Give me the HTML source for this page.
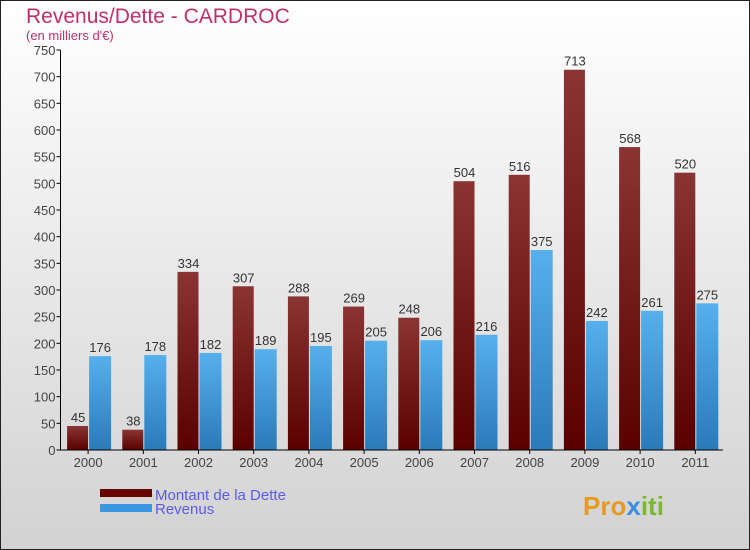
<!DOCTYPE html>
<html><head><meta charset="utf-8"><style>
body{margin:0;width:750px;height:550px;overflow:hidden}
svg{display:block;font-family:"Liberation Sans",sans-serif}
</style></head><body>
<svg id="c" width="750" height="550">
<defs>
<linearGradient id="bg" x1="0" y1="0" x2="0" y2="1"><stop offset="0" stop-color="#ffffff"/><stop offset="1" stop-color="#d2d2d2"/></linearGradient>
<linearGradient id="gd" x1="0" y1="0" x2="0" y2="1"><stop offset="0" stop-color="#8a3434"/><stop offset="1" stop-color="#5a0000"/></linearGradient>
<linearGradient id="gr" x1="0" y1="0" x2="0" y2="1"><stop offset="0" stop-color="#56b0ec"/><stop offset="1" stop-color="#2a7ab8"/></linearGradient>
</defs>
<rect x="0.5" y="0.5" width="749" height="549" fill="url(#bg)" stroke="#222"/>
<text x="26" y="23" font-size="21" fill="#c0306a">Revenus/Dette - CARDROC</text>
<text x="26" y="40" font-size="13" fill="#c0306a">(en milliers d'€)</text>
<g id="g"></g>
<g>
<rect x="100" y="489" width="52" height="8" fill="#660000"/>
<text x="155" y="500" font-size="15" fill="#5a5af0">Montant de la Dette</text>
<rect x="100" y="504" width="52" height="8" fill="#3a98e0"/>
<text x="155" y="514" font-size="15" fill="#5a5af0">Revenus</text>
</g>
<text x="583" y="515" font-size="26" font-weight="bold" fill="#e89a20">Pro<tspan fill="#3a8ee0">x</tspan><tspan fill="#7ab830">iti</tspan></text>
</svg>
<script>
const years=["2000","2001","2002","2003","2004","2005","2006","2007","2008","2009","2010","2011"];
const dette=[45,38,334,307,288,269,248,504,516,713,568,520];
const revenus=[176,178,182,189,195,205,206,216,375,242,261,275];
const yTicks=[0,50,100,150,200,250,300,350,400,450,500,550,600,650,700,750];
const NS="http://www.w3.org/2000/svg",g=document.getElementById('g');
const y0=450,yMax=750,ph=400,x0=60.5,gw=55.2;
const Y=v=>y0-v/yMax*ph, X=i=>x0+gw*(i+0.5);
function el(t,a,txt){const e=document.createElementNS(NS,t);for(const k in a)e.setAttribute(k,a[k]);if(txt!=null)e.textContent=txt;g.appendChild(e);return e;}
yTicks.forEach(v=>{
 const l=el('line',{x1:x0-4,x2:x0,y1:Y(v),y2:Y(v),stroke:'#000'});
 
 
 const t=el('text',{x:x0-5,y:Y(v)+5,'font-size':13,fill:'#444','text-anchor':'end'},v);
 
 
});
years.forEach((yr,i)=>{
 const c=X(i);
 const a=el('rect',{x:c-21,y:Y(dette[i]),width:21,height:y0-Y(dette[i]),fill:'url(#gd)'});
 
 
 const b=el('rect',{x:c+1,y:Y(revenus[i]),width:22,height:y0-Y(revenus[i]),fill:'url(#gr)'});
 
 
 const t1=el('text',{x:c-10,y:Y(dette[i])-4,'font-size':13,fill:'#333','text-anchor':'middle'},dette[i]);
 
 
 const t2=el('text',{x:c+12,y:Y(revenus[i])-4,'font-size':13,fill:'#333','text-anchor':'middle'},revenus[i]);
 
 
 const tk=el('line',{x1:c,x2:c,y1:y0,y2:y0+4,stroke:'#000'});
 
 
 const xl=el('text',{x:c,y:y0+17,'font-size':13,fill:'#444','text-anchor':'middle'},yr);
 
 
});
const ya=el('line',{x1:x0,x2:x0,y1:Y(750),y2:y0,stroke:'#000'});


const xa=el('line',{x1:x0,x2:x0+gw*12,y1:y0,y2:y0,stroke:'#000'});


</script>
</body></html>
